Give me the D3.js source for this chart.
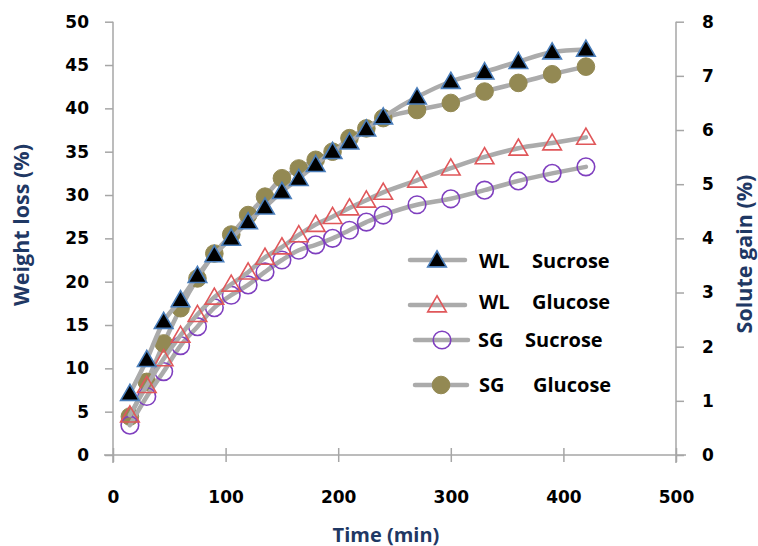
<!DOCTYPE html>
<html>
<head>
<meta charset="utf-8">
<script src="https://cdn.jsdelivr.net/npm/d3@7"></script>
<style>
  html, body { margin: 0; padding: 0; background: #ffffff; }
  svg { display: block; }
</style>
</head>
<body>
<svg id="chart" width="758" height="546"></svg>
<script>
// ---- data ----
const times = [15, 30, 45, 60, 75, 90, 105, 120, 135, 150, 165, 180, 195, 210, 225, 240, 270, 300, 330, 360, 390, 420];
const wlSucrose = [7.1, 11.0, 15.4, 17.9, 20.7, 23.1, 25.0, 26.9, 28.6, 30.4, 31.9, 33.5, 35.0, 36.1, 37.6, 39.0, 41.3, 43.1, 44.2, 45.4, 46.5, 46.8];
const wlGlucose = [4.6, 8.0, 11.1, 13.8, 16.2, 18.2, 19.7, 21.1, 22.8, 24.0, 25.4, 26.6, 27.5, 28.5, 29.4, 30.3, 31.7, 33.1, 34.4, 35.4, 36.0, 36.65];
const sgSucrose = [0.55, 1.08, 1.54, 2.02, 2.37, 2.72, 2.95, 3.14, 3.38, 3.6, 3.78, 3.88, 4.0, 4.15, 4.3, 4.43, 4.62, 4.73, 4.89, 5.06, 5.2, 5.32];
const sgGlucose = [0.71, 1.35, 2.06, 2.71, 3.26, 3.72, 4.07, 4.43, 4.77, 5.11, 5.29, 5.45, 5.6, 5.85, 6.03, 6.22, 6.37, 6.5, 6.71, 6.87, 7.03, 7.17];
const xTicks = [0, 100, 200, 300, 400, 500];
const yLeftTicks = [0, 5, 10, 15, 20, 25, 30, 35, 40, 45, 50];
const yRightTicks = [0, 1, 2, 3, 4, 5, 6, 7, 8];
const legendPrefix = ["WL", "WL", "SG", "SG"];
const legendSuffix = ["Sucrose", "Glucose", "Sucrose", "Glucose"];
const xTitle = "Time (min)";
const yLeftTitle = "Weight loss (%)";
const yRightTitle = "Solute gain (%)";

// ---- layout ----
const svg = d3.select("#chart");
svg.append("rect").attr("width", 758).attr("height", 546).attr("fill", "#ffffff");

const x = d3.scaleLinear().domain([0, 500]).range([113, 676]);
const yL = d3.scaleLinear().domain([0, 50]).range([455, 21.7]);
const yR = d3.scaleLinear().domain([0, 8]).range([455, 21.7]);

const axisColor = "#a6a6a6";
const tickFont = "'DejaVu Sans', sans-serif";
const titleFont = "'Open Sans', sans-serif";
const titleColor = "#1f3864";

// extra axis line extents
svg.append("line").attr("x1", 104).attr("x2", 686).attr("y1", 455).attr("y2", 455)
  .attr("stroke", axisColor).attr("stroke-width", 1.5);
svg.append("line").attr("x1", 113).attr("x2", 113).attr("y1", 21.7).attr("y2", 463)
  .attr("stroke", axisColor).attr("stroke-width", 1.5);
svg.append("line").attr("x1", 676).attr("x2", 676).attr("y1", 21.7).attr("y2", 463)
  .attr("stroke", axisColor).attr("stroke-width", 1.5);

function styleAxis(g) {
  g.select(".domain").remove();
  g.selectAll(".tick line").attr("stroke", axisColor).attr("stroke-width", 1.5);
  g.selectAll(".tick text").attr("fill", "#000").attr("font-family", tickFont)
    .attr("font-weight", "bold").attr("font-size", 17);
}

const gx = svg.append("g").attr("transform", "translate(0,455)")
  .call(d3.axisBottom(x).tickValues(xTicks).tickSize(7).tickPadding(29).tickFormat(d3.format("d")));
styleAxis(gx);
gx.selectAll(".tick line").attr("y1", -7);

const gyl = svg.append("g").attr("transform", "translate(113,0)")
  .call(d3.axisLeft(yL).tickValues(yLeftTicks).tickSize(8).tickPadding(16).tickFormat(d3.format("d")));
styleAxis(gyl);

const gyr = svg.append("g").attr("transform", "translate(676,0)")
  .call(d3.axisRight(yR).tickValues(yRightTicks).tickSize(8).tickPadding(18).tickFormat(d3.format("d")));
styleAxis(gyr);

// titles
svg.append("text").text(xTitle).attr("x", 386).attr("y", 534)
  .attr("text-anchor", "middle").attr("dominant-baseline", "central")
  .attr("font-family", titleFont).attr("font-weight", "bold").attr("font-size", 20).attr("fill", titleColor);
svg.append("text").text(yLeftTitle).attr("transform", "translate(20,225) rotate(-90)")
  .attr("text-anchor", "middle").attr("dominant-baseline", "central")
  .attr("font-family", titleFont).attr("font-weight", "bold").attr("font-size", 21.5).attr("fill", titleColor);
svg.append("text").text(yRightTitle).attr("transform", "translate(743,254) rotate(-90)")
  .attr("text-anchor", "middle").attr("dominant-baseline", "central")
  .attr("font-family", titleFont).attr("font-weight", "bold").attr("font-size", 21.5).attr("fill", titleColor);

// ---- series ----
const lineColor = "#ababab";
const series = [
  { name: "SG Glucose", values: sgGlucose, y: yR, marker: "circle", fill: "#938953", stroke: "#938953" },
  { name: "SG Sucrose", values: sgSucrose, y: yR, marker: "circle", fill: "none", stroke: "#7f3fbf" },
  { name: "WL Glucose", values: wlGlucose, y: yL, marker: "triangle", fill: "none", stroke: "#e0575a" },
  { name: "WL Sucrose", values: wlSucrose, y: yL, marker: "triangle", fill: "#000000", stroke: "#4a7ebb" }
];

const triSym = d3.symbol().type(d3.symbolTriangle).size(150);
const circSym = d3.symbol().type(d3.symbolCircle).size(Math.PI * 8.8 * 8.8);

function drawMarker(g, s, cx, cy) {
  if (s.marker === "triangle") {
    g.append("path").attr("d", triSym()).attr("transform", `translate(${cx},${cy + 1.5})`)
      .attr("fill", s.fill).attr("stroke", s.stroke).attr("stroke-width", 1.6);
  } else {
    g.append("path").attr("d", circSym()).attr("transform", `translate(${cx},${cy})`)
      .attr("fill", s.fill).attr("stroke", s.stroke).attr("stroke-width", s.fill === "none" ? 1.6 : 1);
  }
}

series.forEach(s => {
  const pts = times.map((t, i) => [x(t), s.y(s.values[i])]);
  const g = svg.append("g");
  g.append("path").attr("d", d3.line().curve(d3.curveCatmullRom.alpha(0.5))(pts))
    .attr("fill", "none").attr("stroke", lineColor).attr("stroke-width", 4.5)
    .attr("stroke-linecap", "round").attr("stroke-linejoin", "round");
  pts.forEach(p => drawMarker(g, s, p[0], p[1]));
});

// ---- legend ----
const legendOrder = [3, 2, 1, 0];
const legendRows = [
  { y: 260, ty: 260, x1: 410, x2: 465, mx: 437, px: 479, sx: 532 },
  { y: 305, ty: 301, x1: 410, x2: 465, mx: 437, px: 479, sx: 532 },
  { y: 340, ty: 339, x1: 415, x2: 468, mx: 442, px: 478, sx: 525 },
  { y: 385, ty: 384, x1: 415, x2: 467, mx: 441, px: 479, sx: 533 }
];
legendOrder.forEach((si, r) => {
  const s = series[si];
  const L = legendRows[r];
  const g = svg.append("g");
  g.append("line").attr("x1", L.x1).attr("x2", L.x2).attr("y1", L.y).attr("y2", L.y)
    .attr("stroke", lineColor).attr("stroke-width", 4.5).attr("stroke-linecap", "round");
  drawMarker(g, s, L.mx, L.y);
  g.append("text").text(legendPrefix[r]).attr("x", L.px).attr("y", L.ty)
    .attr("dominant-baseline", "central").attr("font-family", titleFont)
    .attr("font-weight", "bold").attr("font-size", 20).attr("fill", "#000");
  g.append("text").text(legendSuffix[r]).attr("x", L.sx).attr("y", L.ty)
    .attr("dominant-baseline", "central").attr("font-family", titleFont)
    .attr("font-weight", "bold").attr("font-size", 20).attr("fill", "#000");
});
</script>
</body>
</html>
